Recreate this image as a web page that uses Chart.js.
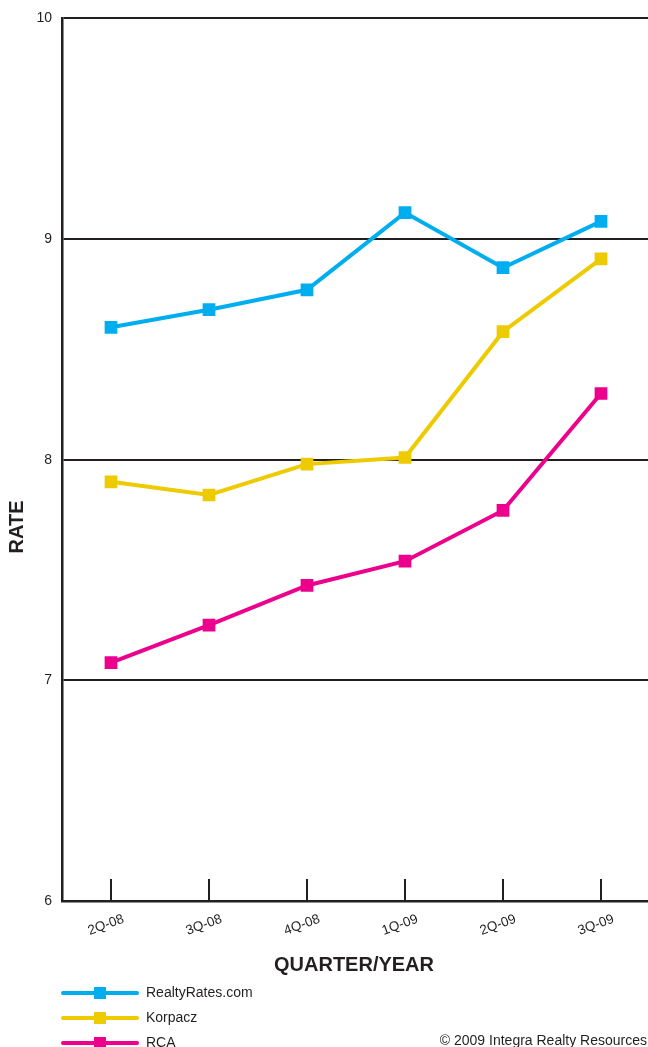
<!DOCTYPE html>
<html>
<head>
<meta charset="utf-8">
<script src="https://cdn.jsdelivr.net/npm/chart.js@4/dist/chart.umd.min.js"></script>
<style>
  html, body { margin: 0; padding: 0; background: #fff; overflow: hidden; }
  #wrap { width: 648px; height: 1047px; overflow: hidden; }
</style>
</head>
<body>
<div id="wrap"><canvas id="rates" width="660" height="1047"></canvas></div>
<script>
const quarters = ["2Q-08", "3Q-08", "4Q-08", "1Q-09", "2Q-09", "3Q-09"];
const realtyRates = [8.60, 8.68, 8.77, 9.12, 8.87, 9.08];
const korpacz = [7.90, 7.84, 7.98, 8.01, 8.58, 8.91];
const rca = [7.08, 7.25, 7.43, 7.54, 7.77, 8.30];
const rateTicks = [6, 7, 8, 9, 10];

const INK = "#231f20";
const FONT = "'Liberation Sans', Arial, Helvetica, sans-serif";

const series = (label, data, color) => ({
  label,
  data,
  borderColor: color,
  backgroundColor: color,
  borderWidth: 4,
  pointStyle: "rect",
  pointRadius: 9,
  pointHoverRadius: 9,
  pointBorderWidth: 0,
  tension: 0,
});

// axis titles, inner x ticks, slanted quarter labels, legend and credit line
const decorations = {
  id: "decorations",
  afterDraw(chart) {
    const { ctx, chartArea, scales } = chart;
    const x = scales.x;
    ctx.save();

    ctx.strokeStyle = INK;
    ctx.lineWidth = 2;
    quarters.forEach((q, i) => {
      const px = Math.round(x.getPixelForValue(i));
      ctx.beginPath();
      ctx.moveTo(px, chartArea.bottom);
      ctx.lineTo(px, chartArea.bottom - 22);
      ctx.stroke();
    });

    ctx.fillStyle = INK;
    ctx.font = "13.5px " + FONT;
    ctx.textAlign = "center";
    ctx.textBaseline = "middle";
    quarters.forEach((q, i) => {
      const px = x.getPixelForValue(i);
      ctx.save();
      ctx.translate(px - 5, chartArea.bottom + 24);
      ctx.rotate(-20 * Math.PI / 180);
      ctx.fillText(q, 0, 0);
      ctx.restore();
    });

    ctx.font = "bold 20px " + FONT;
    ctx.fillText("QUARTER/YEAR", 354, 965);
    ctx.save();
    ctx.translate(17, 527);
    ctx.rotate(-Math.PI / 2);
    ctx.fillText("RATE", 0, 0);
    ctx.restore();

    ctx.font = "14px " + FONT;
    ctx.textAlign = "left";
    chart.data.datasets.forEach((ds, i) => {
      const y = 993 + i * 25;
      ctx.strokeStyle = ds.borderColor;
      ctx.lineWidth = 4;
      ctx.lineCap = "round";
      ctx.beginPath();
      ctx.moveTo(63, y);
      ctx.lineTo(137, y);
      ctx.stroke();
      ctx.fillStyle = ds.backgroundColor;
      ctx.fillRect(94, y - 6, 12, 12);
      ctx.fillStyle = INK;
      ctx.fillText(ds.label, 146, y);
    });

    ctx.textAlign = "right";
    ctx.fillText("\u00a9 2009 Integra Realty Resources", 647, 1041);
    ctx.restore();
  },
};

new Chart(document.getElementById("rates"), {
  type: "line",
  data: {
    labels: quarters,
    datasets: [
      series("RealtyRates.com", realtyRates, "#00aeef"),
      series("Korpacz", korpacz, "#eeca00"),
      series("RCA", rca, "#ec008c"),
    ],
  },
  options: {
    responsive: false,
    animation: false,
    layout: { padding: { top: 17, right: 10, left: 0, bottom: 0 } },
    plugins: { legend: { display: false }, tooltip: { enabled: false } },
    scales: {
      x: {
        offset: true,
        grid: { display: false },
        border: { display: true, color: INK, width: 2.5 },
        ticks: { display: false },
        afterFit(scale) { scale.height = 146; },
      },
      y: {
        min: 6,
        max: 10,
        afterBuildTicks(scale) { scale.ticks = rateTicks.map((v) => ({ value: v })); },
        grid: { color: INK, lineWidth: 2, drawTicks: false },
        border: { display: true, color: INK, width: 2.5 },
        ticks: {
          color: INK,
          font: { family: FONT, size: 14 },
          padding: 10,
        },
        afterFit(scale) { scale.width = 62; },
      },
    },
  },
  plugins: [decorations],
});
</script>
</body>
</html>
